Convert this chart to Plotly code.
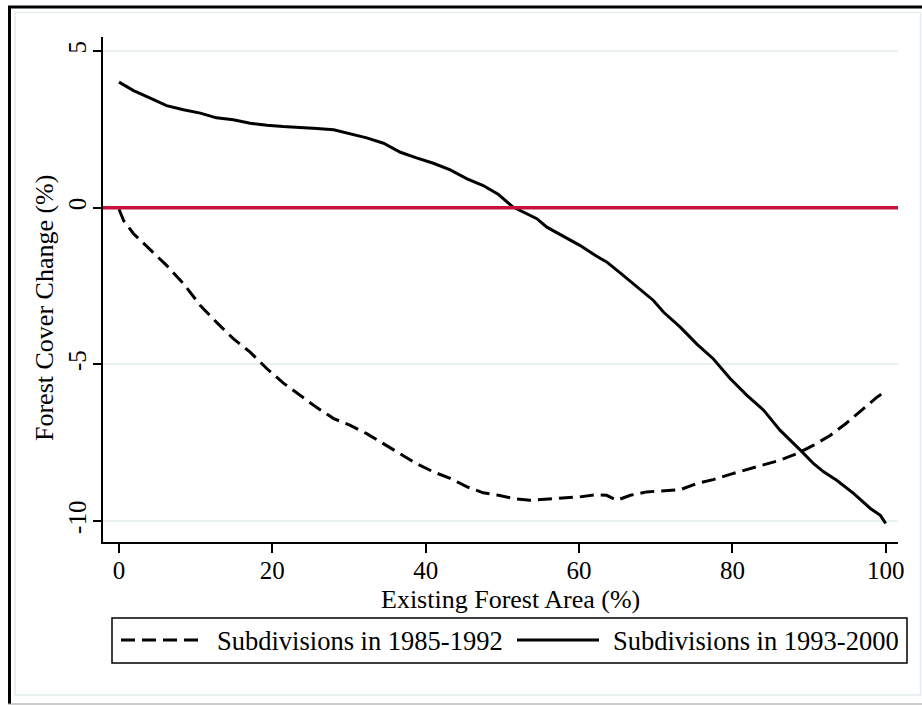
import plotly.graph_objects as go

# ---- data ----
x_1985 = [0, 0.6, 1.9, 4.0, 6.2, 8.4, 10.6, 12.7, 14.9, 17.1, 19.3, 21.4, 23.6, 25.8, 28.0,
          30.1, 32.3, 34.5, 36.7, 38.8, 41.0, 43.2, 45.4, 47.5, 49.5, 51.4, 53.6, 55.8, 58.0,
          60.1, 62.3, 63.6, 64.9, 66.7, 68.8, 71.0, 73.2, 75.4, 77.5, 79.7, 81.9, 84.1, 86.2,
          88.4, 90.6, 92.8, 94.9, 97.1, 98.9, 100]
y_1985 = [-0.05, -0.41, -0.83, -1.31, -1.84, -2.42, -3.12, -3.65, -4.18, -4.61, -5.14, -5.59,
          -5.99, -6.38, -6.73, -6.94, -7.21, -7.53, -7.85, -8.17, -8.43, -8.64, -8.91, -9.10,
          -9.18, -9.28, -9.34, -9.31, -9.26, -9.23, -9.16, -9.18, -9.34, -9.18, -9.07, -9.04,
          -9.00, -8.80, -8.68, -8.51, -8.36, -8.22, -8.06, -7.85, -7.58, -7.26, -6.87, -6.41,
          -6.04, -5.85]

x_1993 = [0, 1.9, 4.0, 6.2, 8.4, 10.6, 12.7, 14.9, 17.1, 19.3, 21.4, 23.6, 25.8, 28.0, 30.1,
          32.3, 34.5, 36.7, 38.8, 41.0, 43.2, 45.4, 47.5, 49.5, 51.4, 54.5, 55.8, 58.0, 60.1,
          62.3, 63.6, 65.4, 67.5, 69.7, 71.0, 73.2, 75.4, 77.5, 79.7, 81.9, 84.1, 86.2, 88.8,
          90.6, 91.9, 93.6, 95.8, 98.0, 99.3, 100]
y_1993 = [4.01, 3.74, 3.51, 3.26, 3.13, 3.02, 2.87, 2.81, 2.70, 2.63, 2.59, 2.57, 2.53, 2.49,
          2.36, 2.23, 2.06, 1.77, 1.59, 1.42, 1.21, 0.92, 0.71, 0.42, 0.02, -0.35, -0.62, -0.92,
          -1.20, -1.55, -1.73, -2.09, -2.53, -2.96, -3.33, -3.81, -4.36, -4.82, -5.45, -5.99,
          -6.47, -7.10, -7.72, -8.17, -8.43, -8.70, -9.12, -9.60, -9.82, -10.08]

x_ticks = [0, 20, 40, 60, 80, 100]
y_ticks = [-10, -5, 0, 5]
y_tick_labels = ["-10", "-5", "0", "5"]
series_names = ["Subdivisions in 1985-1992", "Subdivisions in 1993-2000"]
x_title = "Existing Forest Area (%)"
y_title = "Forest Cover Change (%)"

# ---- layout geometry (pixels) ----
W, H = 922, 705
L, R, T, B = 103, 24, 37, 163
PW, PH = W - L - R, H - T - B
FONT = "Liberation Serif"


def px(xp):
    return (xp - L) / PW


def py(yp):
    return (H - B - yp) / PH


fig = go.Figure()
fig.add_trace(go.Scatter(x=x_1985, y=y_1985, mode="lines", name=series_names[0],
                         line=dict(color="black", width=3, dash="14px,7px"), showlegend=False))
fig.add_trace(go.Scatter(x=x_1993, y=y_1993, mode="lines", name=series_names[1],
                         line=dict(color="black", width=3), showlegend=False))

shapes = []
# reference line at zero
shapes.append(dict(type="line", xref="paper", yref="y", x0=0, x1=1, y0=0, y1=0,
                   line=dict(color="#c8103e", width=3.5), layer="above"))
# outer frame
shapes.append(dict(type="line", xref="paper", yref="paper", x0=px(9.5), x1=px(9.5),
                   y0=py(6), y1=py(704), line=dict(color="black", width=3)))
shapes.append(dict(type="line", xref="paper", yref="paper", x0=px(8), x1=px(922),
                   y0=py(7), y1=py(7), line=dict(color="black", width=3)))
shapes.append(dict(type="line", xref="paper", yref="paper", x0=px(8), x1=px(922),
                   y0=py(704), y1=py(704), line=dict(color="#9a9a9a", width=1)))
# inner light frame
shapes.append(dict(type="rect", xref="paper", yref="paper", x0=px(15), x1=px(920.5),
                   y0=py(12.5), y1=py(695), line=dict(color="#e3ecee", width=1.5)))
# legend box
shapes.append(dict(type="rect", xref="paper", yref="paper", x0=px(112), x1=px(907),
                   y0=py(618), y1=py(663), line=dict(color="black", width=1.5),
                   fillcolor="white"))
shapes.append(dict(type="line", xref="paper", yref="paper", x0=px(121), x1=px(203),
                   y0=py(640), y1=py(640), line=dict(color="black", width=3, dash="14px,7px")))
shapes.append(dict(type="line", xref="paper", yref="paper", x0=px(517), x1=px(599),
                   y0=py(640), y1=py(640), line=dict(color="black", width=3)))

annotations = [
    dict(text=x_title, xref="paper", yref="paper", x=px(510), y=py(599), showarrow=False,
         xanchor="center", yanchor="middle", font=dict(family=FONT, size=26, color="black")),
    dict(text=y_title, xref="paper", yref="paper", x=px(44), y=py(308), showarrow=False,
         textangle=-90, xanchor="center", yanchor="middle",
         font=dict(family=FONT, size=26, color="black")),
    dict(text=series_names[0], xref="paper", yref="paper", x=px(215), y=py(641),
         showarrow=False, xanchor="left", yanchor="middle",
         font=dict(family=FONT, size=26.5, color="black")),
    dict(text=series_names[1], xref="paper", yref="paper", x=px(611), y=py(641),
         showarrow=False, xanchor="left", yanchor="middle",
         font=dict(family=FONT, size=26.5, color="black")),
]

fig.update_layout(
    width=W, height=H,
    margin=dict(l=L, r=R, t=T, b=B),
    paper_bgcolor="white", plot_bgcolor="white",
    showlegend=False,
    shapes=shapes,
    annotations=annotations,
    xaxis=dict(range=[-2.09, 101.6], tickvals=x_ticks, ticks="outside", ticklen=9,
               tickwidth=1.5, tickcolor="black", showline=True, linecolor="black",
               linewidth=1.5, showgrid=False, zeroline=False, ticklabelstandoff=-4,
               tickfont=dict(family=FONT, size=25, color="black")),
    yaxis=dict(range=[-10.67, 5.45], tickvals=y_ticks, ticktext=y_tick_labels,
               tickangle=-90, ticks="outside",
               ticklen=8, tickwidth=1.5, tickcolor="black", showline=True,
               linecolor="black", linewidth=1.5, showgrid=True, gridcolor="#e8f0f2",
               gridwidth=1.5, zeroline=False, ticklabelstandoff=-3,
               tickfont=dict(family=FONT, size=25, color="black")),
)

fig.write_html("out.html")
